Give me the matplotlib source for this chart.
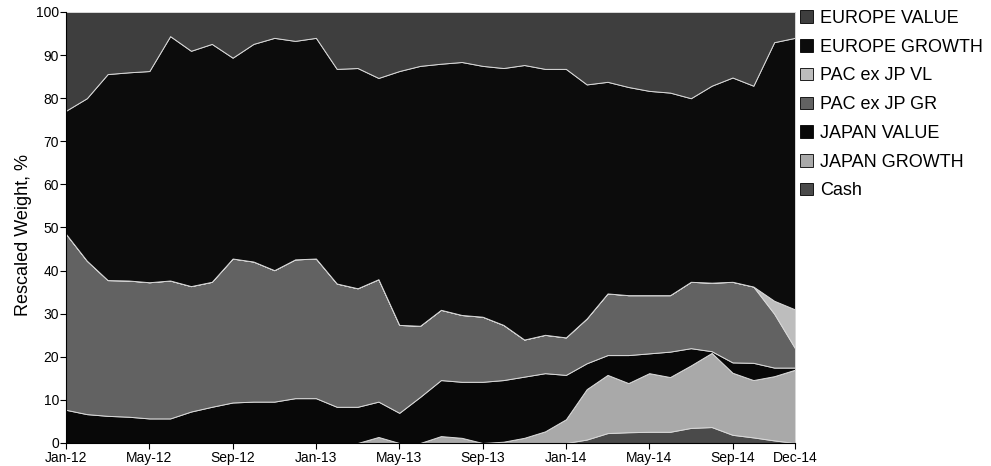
import numpy as np
import pandas as pd
import matplotlib
matplotlib.use("Agg")
import matplotlib.pyplot as plt
from matplotlib.patches import Patch

# ---------------------------------------------------------------
# Data, monthly Jan-12 .. Dec-14
# ---------------------------------------------------------------
months = pd.date_range("2012-01-01", "2014-12-01", freq="MS").strftime("%b-%y").tolist()

cash = [0, 0, 0, 0, 0, 0, 0, 0, 0, 0, 0, 0, 0, 0, 0, 0, 0, 0,
        0, 0, 0, 0, 0, 0, 0, 0.8, 2.3, 2.5, 2.6, 2.6, 3.5, 3.7, 1.9, 1.3, 0.6, 0.0]
japan_growth = [0, 0, 0, 0, 0, 0, 0, 0, 0, 0, 0, 0, 0, 0, 0, 1.4, 0, 0,
                1.6, 1.2, 0, 0.3, 1.2, 2.7, 5.5, 11.7, 13.5, 11.4, 13.6, 12.7, 14.5, 17.2,
                14.4, 13.3, 14.9, 17.0]
japan_value = [7.7, 6.7, 6.3, 6.1, 5.7, 5.7, 7.3, 8.4, 9.4, 9.6, 9.6, 10.4, 10.4, 8.4,
               8.4, 8.2, 7.0, 10.7, 13.0, 13.0, 14.2, 14.3, 14.2, 13.5, 10.3, 6.0, 4.6,
               6.5, 4.6, 5.9, 4.0, 0.4, 2.4, 4.0, 2.0, 0.5]
pac_gr = [40.8, 35.6, 31.5, 31.6, 31.6, 32.0, 29.1, 29.0, 33.4, 32.5, 30.5, 32.2, 32.4,
          28.6, 27.5, 28.4, 20.4, 16.5, 16.3, 15.5, 15.1, 12.8, 8.6, 8.9, 8.7, 10.4,
          14.3, 13.9, 13.5, 13.1, 15.4, 15.9, 18.7, 17.7, 12.5, 4.5]
pac_vl = [0, 0, 0, 0, 0, 0, 0, 0, 0, 0, 0, 0, 0, 0, 0, 0, 0, 0,
          0, 0, 0, 0, 0, 0, 0, 0, 0, 0, 0, 0, 0, 0, 0, 0, 3.0, 9.0]
europe_growth = [28.6, 37.7, 47.8, 48.3, 49.0, 56.7, 54.6, 55.2, 46.6, 50.5, 53.9, 50.7,
                 51.2, 49.8, 51.1, 46.7, 58.9, 60.3, 57.1, 58.7, 58.2, 59.6, 63.7, 61.7,
                 62.3, 54.3, 49.1, 48.3, 47.4, 47.0, 42.6, 45.7, 47.4, 46.6, 60.0, 63.0]
europe_value = [22.9, 20.0, 14.4, 14.0, 13.7, 5.6, 9.0, 7.4, 10.6, 7.4, 6.0, 6.7, 6.0,
                13.2, 13.0, 15.3, 13.7, 12.5, 12.0, 11.6, 12.5, 13.0, 12.3, 13.2, 13.2,
                16.8, 16.2, 17.4, 18.3, 18.7, 20.0, 17.1, 15.2, 17.1, 7.0, 6.0]

series_names = ["Cash", "JAPAN GROWTH", "JAPAN VALUE", "PAC ex JP GR",
                "PAC ex JP VL", "EUROPE GROWTH", "EUROPE VALUE"]
tick_labels = ["Jan-12", "May-12", "Sep-12", "Jan-13", "May-13", "Sep-13",
               "Jan-14", "May-14", "Sep-14", "Dec-14"]

# greyscale fills, bottom -> top
colors = ["#4a4a4a", "#a9a9a9", "#080808", "#626262", "#bdbdbd", "#0c0c0c", "#3e3e3e"]

plt.rcParams["font.family"] = ["Liberation Sans Narrow", "Liberation Sans", "DejaVu Sans"]

fig = plt.figure(figsize=(9.91, 4.66), dpi=100)
ax = fig.add_axes([66 / 991, 1 - 443 / 466, (795 - 66) / 991, (443 - 12) / 466])

x = np.arange(len(months))
stack = [cash, japan_growth, japan_value, pac_gr, pac_vl, europe_growth, europe_value]
ax.stackplot(x, *stack, colors=colors, edgecolor="#d8d8d8", linewidth=0.7)

ax.set_xlim(0, len(months) - 1)
ax.set_ylim(0, 100)
ax.set_yticks(range(0, 101, 10))
ax.set_xticks([months.index(t) for t in tick_labels])
ax.set_xticklabels(tick_labels)
ax.tick_params(axis="both", labelsize=10, length=4, width=0.8, color="black")
ax.tick_params(axis="x", pad=2)
ax.tick_params(axis="y", pad=1)
for side in ["top", "right"]:
    ax.spines[side].set_visible(False)
for side in ["left", "bottom"]:
    ax.spines[side].set_linewidth(0.8)

fig.text(24 / 991, 1 - 235 / 466, "Rescaled Weight, %", rotation=90, ha="center", va="center",
         fontsize=13, family=["Liberation Sans", "DejaVu Sans"])

# legend: top of stack first, like the original
handles = [Patch(facecolor=c, edgecolor="black", linewidth=0.6) for c in colors][::-1]
ax.legend(handles, series_names[::-1], loc="upper left", bbox_to_anchor=(800 / 991, 1 - 10 / 466),
          bbox_transform=fig.transFigure, frameon=False, borderaxespad=0, borderpad=0,
          handlelength=0.7, handleheight=0.7, handletextpad=0.4, labelspacing=0.65,
          prop={"family": ["Liberation Sans", "DejaVu Sans"], "size": 13})

fig.savefig("out.png", dpi=100)
